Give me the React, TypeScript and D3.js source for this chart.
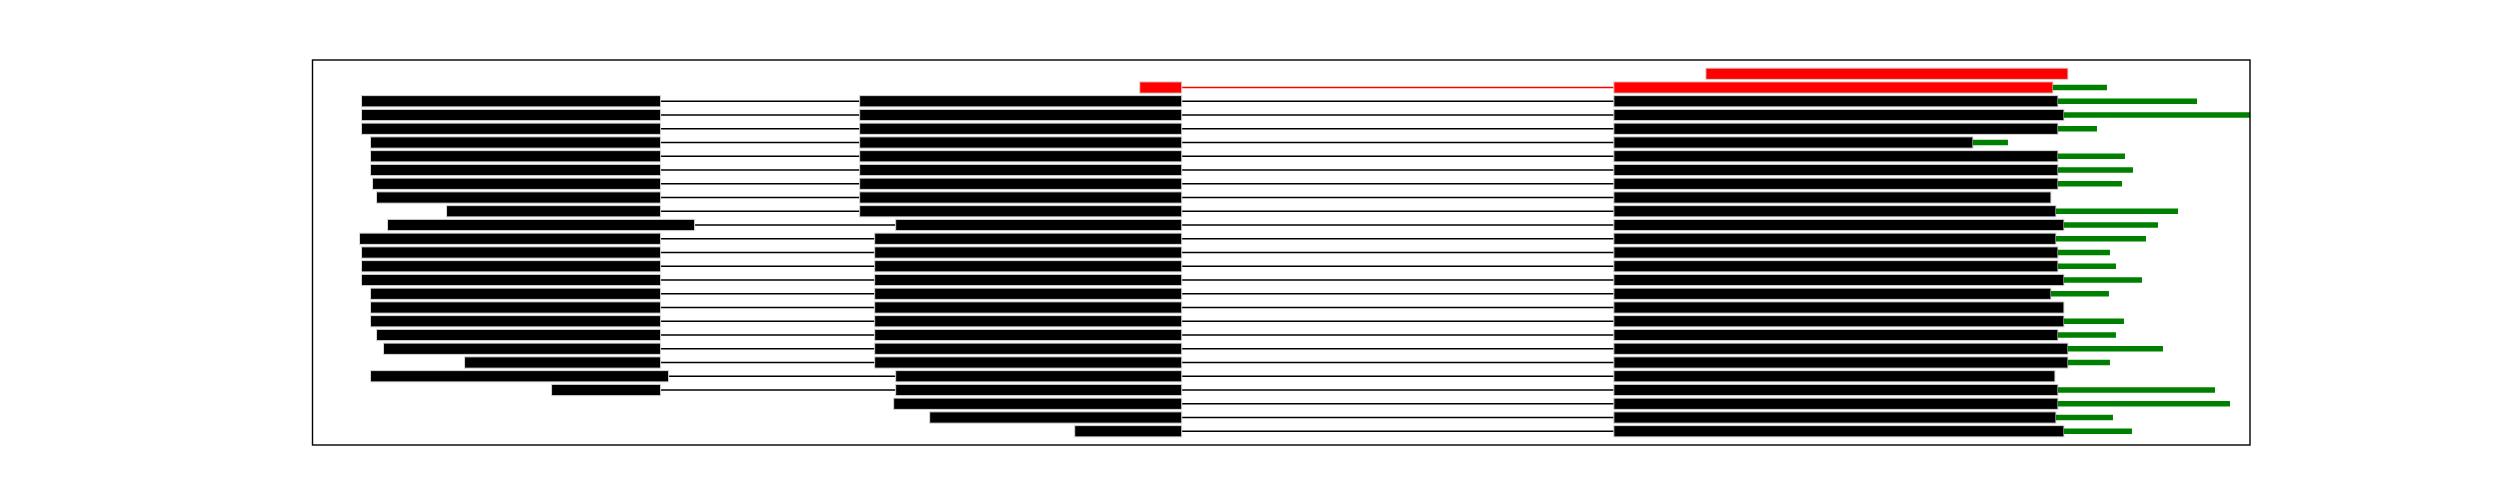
import React from 'react';
import * as d3 from 'd3';

// one entry per row, top to bottom; null = segment absent
const rowColor = ['red', 'red', ...Array(25).fill('black')];

const leftStart = [null, null, 49, 49, 49, 58, 58, 58, 60, 64, 134, 75, 47, 49, 49, 49, 58, 58, 58, 64, 71, 152, 58, 239, null, null, null];
const leftEnd = [null, null, 348, 348, 348, 348, 348, 348, 348, 348, 348, 382, 348, 348, 348, 348, 348, 348, 348, 348, 348, 348, 356, 348, null, null, null];
const midStart = [null, 827, 547, 547, 547, 547, 547, 547, 547, 547, 547, 583, 562, 562, 562, 562, 562, 562, 562, 562, 562, 562, 583, 583, 581, 617, 762];
const midEnd = [null, 869, 869, 869, 869, 869, 869, 869, 869, 869, 869, 869, 869, 869, 869, 869, 869, 869, 869, 869, 869, 869, 869, 869, 869, 869, 869];
const rightStart = [1393, 1301, 1301, 1301, 1301, 1301, 1301, 1301, 1301, 1301, 1301, 1301, 1301, 1301, 1301, 1301, 1301, 1301, 1301, 1301, 1301, 1301, 1301, 1301, 1301, 1301, 1301];
const rightEnd = [1755, 1740, 1745, 1751, 1745, 1660, 1745, 1745, 1745, 1738, 1743, 1751, 1743, 1745, 1745, 1751, 1738, 1751, 1751, 1745, 1755, 1755, 1742, 1745, 1745, 1743, 1751];
const greenEnd = [null, 1794, 1884, 1967, 1784, 1695, 1812, 1820, 1809, null, 1865, 1845, 1833, 1797, 1803, 1829, 1796, null, 1811, 1803, 1850, 1797, null, 1902, 1917, 1800, 1819];

const W = 2500, H = 500;
const margin = { top: 60, right: 250, bottom: 55, left: 312.5 };

export default function App() {
  const x = d3.scaleLinear().domain([0, 1937]).range([margin.left, W - margin.right]);
  const y = d3.scaleLinear().domain([0, rowColor.length + 1]).range([margin.top, H - margin.bottom]);
  const barH = y(0.82) - y(0);
  const greenH = y(0.4) - y(0);

  const rows = rowColor.map((c, i) => {
    const segs: [number, number][] = [];
    if (leftStart[i] != null) segs.push([leftStart[i] as number, leftEnd[i] as number]);
    if (midStart[i] != null) segs.push([midStart[i] as number, midEnd[i] as number]);
    segs.push([rightStart[i], rightEnd[i]]);
    return { c, i, segs, green: greenEnd[i] };
  });

  return (
    <svg width={W} height={H} style={{ position: 'absolute', left: 0, top: 0, background: 'white' }}>
      <defs>
        <clipPath id="plot">
          <rect x={margin.left} y={margin.top} width={W - margin.right - margin.left} height={H - margin.bottom - margin.top} />
        </clipPath>
      </defs>
      <g clipPath="url(#plot)">
        {rows.map(r => {
          const yc = y(r.i + 1);
          const first = r.segs[0][0], last = r.segs[r.segs.length - 1][1];
          return (
            <g key={r.i}>
              {r.segs.length > 1 && (
                <line x1={x(first)} x2={x(last)} y1={yc} y2={yc} stroke={r.c} strokeWidth={1.5} />
              )}
              {r.segs.map((s, k) => (
                <rect key={k} x={x(s[0])} y={yc - barH / 2} width={x(s[1]) - x(s[0])} height={barH}
                  fill={r.c} stroke="#d6d6d6" strokeWidth={1} />
              ))}
              {r.green != null && (
                <rect x={x(r.segs[r.segs.length - 1][1])} y={yc - greenH / 2}
                  width={x(r.green) - x(r.segs[r.segs.length - 1][1])} height={greenH} fill="green" />
              )}
            </g>
          );
        })}
      </g>
      <rect x={margin.left} y={margin.top} width={W - margin.right - margin.left} height={H - margin.bottom - margin.top}
        fill="none" stroke="black" strokeWidth={1.4} />
    </svg>
  );
}
